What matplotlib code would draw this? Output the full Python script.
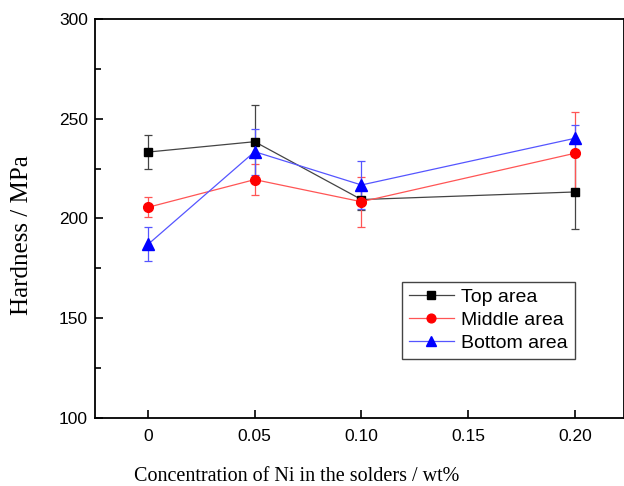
import matplotlib
matplotlib.use("Agg")
import matplotlib.pyplot as plt
from matplotlib.lines import Line2D
from matplotlib.ticker import MultipleLocator

conc = [0, 0.05, 0.10, 0.20]

top = [233.3, 238.5, 209.5, 213.3]
top_err = [8.5, 18.5, 5.0, 18.7]

middle = [205.6, 219.5, 208.4, 232.7]
middle_err = [5.0, 7.8, 12.5, 20.5]

bottom = [187.0, 233.5, 216.8, 240.2]
bottom_err = [8.5, 11.5, 11.8, 6.8]

xtick_labels = ["0", "0.05", "0.10", "0.15", "0.20"]
xticks = [0, 0.05, 0.10, 0.15, 0.20]

fig = plt.figure(figsize=(6.24, 4.86), dpi=100)
ax = fig.add_axes([95 / 624, 68 / 486, 1 - 95 / 624, 399 / 486])

series = [
    (top, top_err, "s", "black", "#444444", "Top area", 6.0),
    (middle, middle_err, "o", "red", "#ff5555", "Middle area", 7.0),
    (bottom, bottom_err, "^", "blue", "#5555ff", "Bottom area", 8.0),
]

handles = []
for y, err, m, c, lc, lab, ms in series:
    ax.errorbar(conc, y, yerr=err, fmt="-", marker=m, color=lc, mfc=c, mec=c,
                ms=ms, lw=0.9, elinewidth=0.9, capsize=3, capthick=0.9,
                ecolor=lc)
    handles.append(Line2D([], [], color=lc, lw=0.9, marker=m, mfc=c, mec=c,
                          ms=ms * 0.9, label=lab))

ax.set_xlim(-0.0248, 0.223)
ax.set_ylim(100, 300)
ax.set_xticks(xticks)
ax.set_xticklabels(xtick_labels)
ax.yaxis.set_major_locator(MultipleLocator(50))
ax.yaxis.set_minor_locator(MultipleLocator(25))

ax.tick_params(which="both", direction="in", top=False, right=False,
               labelsize=12.5, width=1.2)
ax.tick_params(which="major", length=6)
ax.tick_params(which="minor", length=4)
for lbl in ax.get_xticklabels() + ax.get_yticklabels():
    lbl.set_fontfamily("Liberation Sans")
ax.tick_params(axis="x", pad=8)
ax.tick_params(axis="y", pad=5)
for s in ax.spines.values():
    s.set_linewidth(1.3)

ax.set_xlabel("Concentration of Ni in the solders / wt%", fontfamily="Liberation Serif",
              fontsize=14.5, va="center")
ax.set_ylabel("Hardness / MPa", fontfamily="Liberation Serif", fontsize=18, va="center")
ax.xaxis.set_label_coords((297 - 95) / 529, (418 - 476) / 399)
ax.yaxis.set_label_coords((22 - 95) / 529, (418 - 235) / 399)

leg = ax.legend(handles=handles, loc="lower left",
                bbox_to_anchor=((402 - 95) / 529, (418 - 359) / 399),
                prop={"family": "Liberation Sans", "size": 14}, fancybox=False,
                edgecolor="#444444", framealpha=1, handlelength=2.3,
                borderpad=0.35, labelspacing=0.28, handletextpad=0.4,
                borderaxespad=0)
leg.get_frame().set_linewidth(1.0)

fig.savefig("out.png", dpi=100)
